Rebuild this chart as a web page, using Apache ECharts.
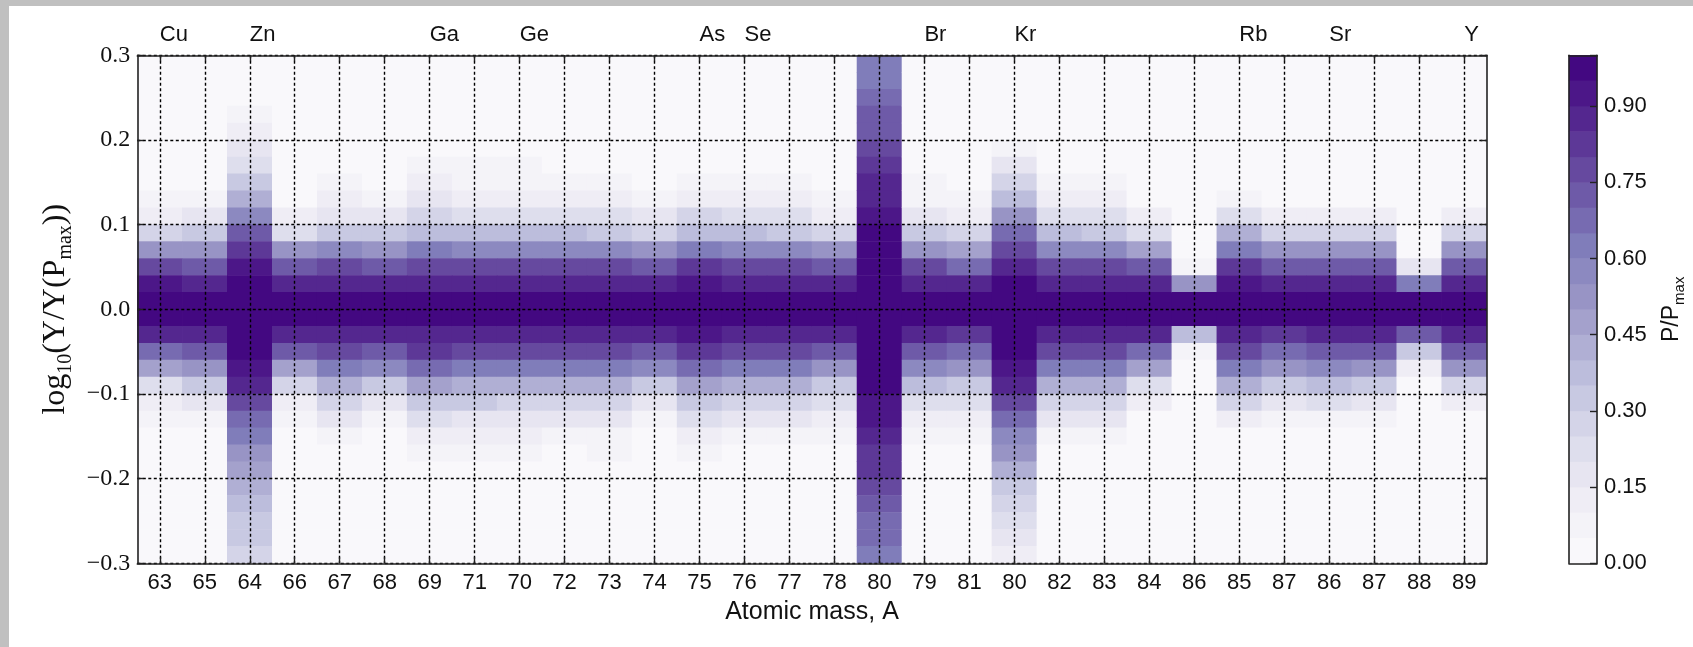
<!DOCTYPE html>
<html><head><meta charset="utf-8">
<script src="https://cdn.jsdelivr.net/npm/echarts@6/dist/echarts.min.js"></script>
<style>html,body{margin:0;padding:0;background:#fff;overflow:hidden}#c{width:1693px;height:647px}</style>
</head><body><div id="c"></div>
<script>
// ---- data ----
const massLabels = ['63','65','64','66','67','68','69','71','70','72','73','74','75','76','77','78','80','79','81','80','82','83','84','86','85','87','86','87','88','89'];
const elementLabels = ['Cu','','Zn','','','','Ga','','Ge','','','','As','Se','','','','Br','','Kr','','','','','Rb','','Sr','','','Y'];
// y bins (centres), listed top to bottom
const yBins = ['0.29','0.27','0.25','0.23','0.21','0.19','0.17','0.15','0.13','0.11','0.09','0.07','0.05','0.03','0.01','-0.01','-0.03','-0.05','-0.07','-0.09','-0.11','-0.13','-0.15','-0.17','-0.19','-0.21','-0.23','-0.25','-0.27','-0.29'];
const yTicks = [-0.3, -0.2, -0.1, 0.0, 0.1, 0.2, 0.3];
const colorbarTicks = [0.00, 0.15, 0.30, 0.45, 0.60, 0.75, 0.90];
const levels = [0,0.05,0.1,0.15,0.2,0.25,0.3,0.35,0.4,0.45,0.5,0.55,0.6,0.65,0.7,0.75,0.8,0.85,0.9,0.95,1.0];

// P/Pmax per column, top (0.29) to bottom (-0.29)
const c63  = [0,0,0,0,0,0,0,0.02,0.05,0.12,0.25,0.52,0.77,0.9,1,1,0.85,0.66,0.45,0.2,0.1,0.05,0.02,0,0,0,0,0,0,0];
const c65  = [0,0,0,0,0,0,0,0.03,0.06,0.15,0.3,0.52,0.73,0.88,1,1,0.85,0.7,0.5,0.3,0.18,0.08,0.03,0,0,0,0,0,0,0];
const c64  = [0,0,0,0.05,0.1,0.15,0.2,0.3,0.42,0.55,0.7,0.82,0.93,1,1,1,1,0.95,0.9,0.85,0.75,0.67,0.6,0.53,0.47,0.42,0.37,0.33,0.3,0.27];
const c66  = [0,0,0,0,0,0,0,0,0.04,0.1,0.22,0.5,0.73,0.88,1,1,0.85,0.7,0.47,0.25,0.12,0.05,0.02,0,0,0,0,0,0,0];
const c67  = [0,0,0,0,0,0,0.03,0.05,0.1,0.18,0.3,0.57,0.75,0.88,1,1,0.85,0.75,0.6,0.4,0.25,0.15,0.08,0.03,0,0,0,0,0,0];
const c68  = [0,0,0,0,0,0,0.02,0.04,0.08,0.15,0.3,0.52,0.73,0.88,1,1,0.85,0.7,0.55,0.32,0.18,0.08,0.04,0.02,0,0,0,0,0,0];
const c69  = [0,0,0,0,0,0.03,0.05,0.1,0.15,0.25,0.38,0.62,0.78,0.88,1,1,0.88,0.8,0.65,0.45,0.32,0.2,0.12,0.06,0.03,0,0,0,0,0];
const c71  = [0,0,0,0,0,0.03,0.05,0.08,0.14,0.22,0.35,0.57,0.76,0.88,1,1,0.88,0.77,0.63,0.42,0.3,0.18,0.1,0.05,0.02,0,0,0,0,0];
const c70  = [0,0,0,0,0,0.02,0.05,0.08,0.14,0.22,0.35,0.59,0.77,0.88,1,1,0.88,0.77,0.63,0.42,0.28,0.17,0.1,0.05,0.02,0,0,0,0,0];
const c72  = [0,0,0,0,0,0.02,0.04,0.08,0.13,0.22,0.35,0.57,0.76,0.88,1,1,0.88,0.77,0.6,0.4,0.27,0.16,0.09,0.04,0.02,0,0,0,0,0];
const c73  = [0,0,0,0,0,0.02,0.04,0.07,0.12,0.2,0.33,0.57,0.76,0.88,1,1,0.88,0.77,0.62,0.42,0.28,0.17,0.09,0.05,0.02,0,0,0,0,0];
const c74  = [0,0,0,0,0,0,0.02,0.04,0.08,0.15,0.28,0.52,0.73,0.87,1,1,0.85,0.73,0.55,0.33,0.18,0.08,0.03,0,0,0,0,0,0,0];
const c75  = [0,0,0,0,0,0.02,0.04,0.08,0.14,0.25,0.38,0.62,0.8,0.9,1,1,0.9,0.8,0.65,0.45,0.32,0.2,0.12,0.06,0.02,0,0,0,0,0];
const c76  = [0,0,0,0,0,0,0.04,0.07,0.12,0.22,0.35,0.59,0.77,0.88,1,1,0.88,0.77,0.62,0.42,0.28,0.17,0.09,0.04,0.02,0,0,0,0,0];
const c77  = [0,0,0,0,0,0,0.03,0.06,0.11,0.2,0.33,0.57,0.77,0.88,1,1,0.88,0.77,0.6,0.4,0.27,0.15,0.08,0.03,0,0,0,0,0,0];
const c78  = [0,0,0,0,0,0,0,0.03,0.06,0.13,0.27,0.52,0.73,0.87,1,1,0.85,0.7,0.53,0.33,0.2,0.1,0.05,0.02,0,0,0,0,0,0];
const c80a = [0.6,0.6,0.65,0.7,0.73,0.78,0.8,0.85,0.87,0.92,0.95,0.97,1,1,1,1,1,1,1,0.97,0.93,0.9,0.87,0.83,0.8,0.75,0.72,0.68,0.65,0.6];
const c79  = [0,0,0,0,0,0,0.03,0.05,0.09,0.17,0.3,0.54,0.75,0.88,1,1,0.85,0.73,0.57,0.37,0.23,0.12,0.06,0.03,0,0,0,0,0,0];
const c81  = [0,0,0,0,0,0,0,0.03,0.06,0.13,0.25,0.49,0.68,0.85,1,1,0.82,0.68,0.52,0.33,0.2,0.1,0.05,0.02,0,0,0,0,0,0];
const c80b = [0,0,0,0,0.04,0.08,0.15,0.25,0.35,0.5,0.65,0.78,0.88,0.95,1,1,1,0.97,0.92,0.85,0.75,0.67,0.58,0.5,0.42,0.33,0.27,0.22,0.17,0.12];
const c82  = [0,0,0,0,0,0,0.03,0.06,0.12,0.22,0.35,0.59,0.77,0.88,1,1,0.88,0.77,0.62,0.42,0.28,0.16,0.08,0.03,0,0,0,0,0,0];
const c83  = [0,0,0,0,0,0,0.02,0.05,0.1,0.2,0.33,0.57,0.77,0.88,1,1,0.88,0.77,0.62,0.42,0.28,0.15,0.07,0.03,0,0,0,0,0,0];
const c84  = [0,0,0,0,0,0,0,0,0.03,0.1,0.22,0.47,0.7,0.88,1,1,0.85,0.67,0.47,0.24,0.12,0.04,0,0,0,0,0,0,0,0];
const c86a = [0,0,0,0,0,0,0,0,0,0,0,0,0.05,0.5,1,0.95,0.38,0.08,0.02,0,0,0,0,0,0,0,0,0,0,0];
const c85  = [0,0,0,0,0,0,0,0.03,0.08,0.22,0.4,0.63,0.8,0.9,1,1,0.88,0.77,0.63,0.42,0.25,0.12,0.04,0,0,0,0,0,0,0];
const c87a = [0,0,0,0,0,0,0,0,0.03,0.12,0.27,0.52,0.71,0.87,1,1,0.83,0.68,0.52,0.32,0.18,0.07,0.02,0,0,0,0,0,0,0];
const c86b = [0,0,0,0,0,0,0,0,0.04,0.13,0.28,0.53,0.73,0.88,1,1,0.85,0.72,0.55,0.35,0.2,0.08,0.02,0,0,0,0,0,0,0];
const c87b = [0,0,0,0,0,0,0,0,0.03,0.12,0.27,0.52,0.71,0.87,1,1,0.85,0.7,0.53,0.32,0.17,0.06,0,0,0,0,0,0,0,0];
const c88  = [0,0,0,0,0,0,0,0,0,0,0,0.02,0.18,0.6,1,0.95,0.7,0.3,0.1,0.02,0,0,0,0,0,0,0,0,0,0];
const c89  = [0,0,0,0,0,0,0,0,0.02,0.1,0.25,0.52,0.71,0.87,1,1,0.85,0.7,0.5,0.28,0.14,0.03,0,0,0,0,0,0,0,0];

const profiles = [c63,c65,c64,c66,c67,c68,c69,c71,c70,c72,c73,c74,c75,c76,c77,c78,c80a,c79,c81,c80b,c82,c83,c84,c86a,c85,c87a,c86b,c87b,c88,c89];

// ---- build ----
const purples = ['#fcfbfd','#efedf5','#dadaeb','#bcbddc','#9e9ac8','#807dba','#6a51a3','#54278f','#3f007d'];
function hex(h){return [1,3,5].map(i=>parseInt(h.substr(i,2),16));}
function cmap(t){
  const s=t*(purples.length-1); const i=Math.min(Math.floor(s),purples.length-2); const f=s-i;
  const a=hex(purples[i]), b=hex(purples[i+1]);
  return 'rgb('+a.map((v,k)=>Math.round(v+(b[k]-v)*f)).join(',')+')';
}
const nLev = levels.length-1;
const pieces = [];
for(let i=0;i<nLev;i++){
  const p={gte:levels[i],color:cmap((i+0.5)/nLev)};
  if(i===nLev-1) p.lte=levels[i+1]; else p.lt=levels[i+1];
  pieces.push(p);
}
const heatData=[];
profiles.forEach((col,xi)=>col.forEach((v,yi)=>heatData.push([xi,yi,v])));
const levelMid = levels.slice(0,-1).map((l,i)=>(l+levels[i+1])/2);
const cbData = levelMid.map((v,i)=>[0,i,v]);

const frame = {show:true,onZero:false,lineStyle:{color:'#222',width:1.6}};
const dotted = {show:true,lineStyle:{color:'#000',width:1.4,type:[3,2.5]}};
const sans = 'Liberation Sans, Arial, sans-serif';
const serif = 'Liberation Serif, Times New Roman, serif';
const L=137.3, R=1486.7, T=55.3, B=563.3, W=1693, H=647;
const colW=(R-L)/massLabels.length;

function fmtY(v){ if(Math.abs(v)<1e-9) return '0.0'; return v<0 ? '\u2212'+(-v).toFixed(1) : v.toFixed(1); }

const option = {
  animation:false,
  backgroundColor:'#fff',
  graphic:[
    {type:'rect',shape:{x:0,y:0,width:9,height:H},style:{fill:'#c0c0c0'},z:0},
    {type:'rect',shape:{x:0,y:0,width:W,height:6},style:{fill:'#c0c0c0'},z:0}
  ],
  grid:[
    {left:L,right:W-R,top:T,bottom:H-B,outerBoundsMode:'none'},
    {left:L+colW/2,right:W-R+colW/2,top:T,bottom:H-B,outerBoundsMode:'none'},
    {left:1569,right:W-1597,top:T,bottom:H-B,outerBoundsMode:'none'}
  ],
  visualMap:{type:'piecewise',show:false,dimension:2,seriesIndex:[0,1],pieces:pieces},
  xAxis:[
    {gridIndex:0,type:'category',data:massLabels,position:'bottom',z:6,
     axisLine:frame,axisTick:{show:false},splitLine:{show:false},
     axisLabel:{interval:0,margin:9,fontSize:22,color:'#111',fontFamily:sans},
     name:'Atomic mass, A',nameLocation:'middle',nameGap:33,
     nameTextStyle:{fontSize:25,color:'#111',fontFamily:sans}},
    {gridIndex:0,type:'category',data:elementLabels,position:'top',z:6,
     axisLine:frame,axisTick:{show:false},splitLine:{show:false},
     axisLabel:{interval:0,margin:9,fontSize:22,color:'#111',fontFamily:sans,align:'left'}},
    {gridIndex:1,type:'value',min:0,max:massLabels.length-1,interval:1,position:'bottom',z:6,
     axisLine:{show:false,onZero:false},axisLabel:{show:false},
     axisTick:{show:true,inside:true,length:6,lineStyle:{color:'#222',width:1.4}},
     splitLine:dotted},
    {gridIndex:1,type:'value',min:0,max:massLabels.length-1,interval:1,position:'top',z:6,
     axisLine:{show:false,onZero:false},axisLabel:{show:false},
     axisTick:{show:true,inside:true,length:6,lineStyle:{color:'#222',width:1.4}},
     splitLine:{show:false}},
    {gridIndex:2,type:'category',data:[''],position:'bottom',z:6,
     axisLine:frame,axisTick:{show:false},axisLabel:{show:false},splitLine:{show:false}},
    {gridIndex:2,type:'category',data:[''],position:'top',z:6,
     axisLine:frame,axisTick:{show:false},axisLabel:{show:false},splitLine:{show:false}}
  ],
  yAxis:[
    {gridIndex:0,type:'category',data:yBins,inverse:true,position:'right',z:6,
     axisLine:frame,axisTick:{show:false},axisLabel:{show:false},splitLine:{show:false}},
    {gridIndex:0,type:'value',min:yTicks[0],max:yTicks[yTicks.length-1],interval:0.1,position:'left',z:6,
     axisLine:frame,
     axisTick:{show:true,inside:true,length:6,lineStyle:{color:'#222',width:1.4}},
     axisLabel:{formatter:fmtY,margin:7,fontSize:24,color:'#111',fontFamily:serif},
     splitLine:dotted,
     name:'{n|log}{s|10}{n|(Y/Y(P}{s|max}{n|))}',nameLocation:'middle',nameRotate:90,nameGap:60,
     nameTextStyle:{rich:{
       n:{fontSize:32,fontFamily:serif,color:'#111',lineHeight:40,verticalAlign:'middle'},
       s:{fontSize:20,fontFamily:serif,color:'#111',lineHeight:20,verticalAlign:'bottom'}}}},
    {gridIndex:0,type:'value',min:yTicks[0],max:yTicks[yTicks.length-1],interval:0.1,position:'right',z:6,
     axisLine:{show:false,onZero:false},axisLabel:{show:false},splitLine:{show:false},
     axisTick:{show:true,inside:true,length:6,lineStyle:{color:'#222',width:1.4}}},
    {gridIndex:1,type:'value',min:yTicks[0],max:yTicks[yTicks.length-1],show:false},
    {gridIndex:2,type:'category',data:levelMid.map(v=>v.toFixed(3)),position:'left',z:6,
     axisLine:frame,axisTick:{show:false},axisLabel:{show:false},splitLine:{show:false}},
    {gridIndex:2,type:'value',min:0,max:1,interval:0.15,position:'right',z:6,
     axisLine:frame,splitLine:{show:false},
     axisTick:{show:true,inside:true,length:7,lineStyle:{color:'#222',width:1.4}},
     axisLabel:{margin:7,fontSize:22,color:'#111',fontFamily:sans,
       formatter:v=>colorbarTicks.some(t=>Math.abs(t-v)<1e-6)?v.toFixed(2):''},
     name:'{n|P/P}{s|max}',nameLocation:'middle',nameRotate:90,nameGap:60,
     nameTextStyle:{rich:{
       n:{fontSize:23,fontFamily:sans,color:'#111',lineHeight:30,verticalAlign:'middle'},
       s:{fontSize:15,fontFamily:sans,color:'#111',lineHeight:15,verticalAlign:'bottom'}}}}
  ],
  series:[
    {type:'heatmap',xAxisIndex:0,yAxisIndex:0,data:heatData,z:2,itemStyle:{borderWidth:0},emphasis:{disabled:true},progressive:0},
    {type:'heatmap',xAxisIndex:4,yAxisIndex:4,data:cbData,z:2,itemStyle:{borderWidth:0},emphasis:{disabled:true}}
  ]
};
const chart = echarts.init(document.getElementById('c'),null,{renderer:'canvas'});
chart.setOption(option);
</script></body></html>
